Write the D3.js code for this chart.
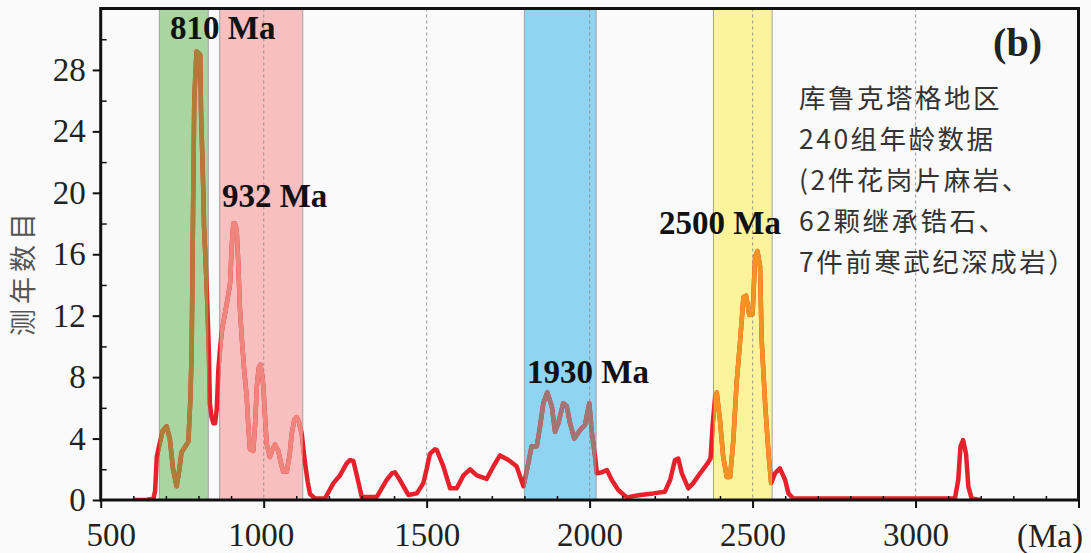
<!DOCTYPE html>
<html>
<head>
<meta charset="utf-8">
<script src="https://cdn.jsdelivr.net/npm/d3@7"></script>
<style>
  body { margin: 0; background: #fafafa; }
  svg { display: block; }
</style>
</head>
<body>
<div id="chart"></div>
<script>
// zircon age spectrum, Kuruktag

const ages = [600, 640, 662, 667, 672, 680, 690, 702, 712, 722, 733, 740, 748, 760, 769, 775, 779,
  784, 787, 790, 794, 800, 805, 808, 811, 815, 817, 822, 827, 832, 835, 840, 846, 851, 856, 861,
  866, 871, 880, 887, 897, 902, 907, 912, 917, 922, 927, 933, 940, 948, 953, 958, 968, 974, 979,
  985, 990, 995, 999, 1004, 1009, 1019, 1027, 1035, 1045, 1052, 1060, 1071, 1080, 1086, 1094,
  1101, 1108, 1117, 1122, 1127, 1135, 1142, 1157, 1188, 1214, 1234, 1255, 1265, 1275, 1288, 1301,
  1347, 1377, 1394, 1403, 1418, 1444, 1470, 1490, 1500, 1510, 1525, 1531, 1551, 1572, 1592, 1613,
  1633, 1654, 1684, 1705, 1725, 1751, 1776, 1797, 1812, 1822, 1838, 1848, 1858, 1870, 1884, 1894,
  1904, 1919, 1930, 1940, 1953, 1971, 1986, 1999, 2006, 2017, 2022, 2037, 2053, 2068, 2088, 2114,
  2155, 2195, 2231, 2247, 2262, 2272, 2283, 2303, 2318, 2339, 2359, 2371, 2378, 2385, 2390, 2400,
  2410, 2421, 2431, 2441, 2451, 2462, 2472, 2480, 2490, 2500, 2508, 2515, 2523, 2528, 2539, 2549,
  2557, 2569, 2584, 2600, 2610, 2625, 3121, 3131, 3138, 3146, 3155, 3162, 3172, 3200];

const counts = [0, 0, 0.1, 0.6, 2.8, 3.6, 4.5, 4.8, 4.0, 2.0, 0.9, 1.8, 3.1, 3.5, 3.8, 6.5, 9.6,
  20.1, 25.9, 27.5, 29.2, 29.1, 29.0, 25.1, 23.0, 20.0, 17.8, 15.5, 12.8, 9.6, 6.3, 5.4, 5.0, 5.0, 5.9, 8.5,
  9.8, 10.9, 12.0, 12.8, 14.1, 16.5, 18.0, 18.0, 17.6, 15.5, 12.5, 10.5, 8.5, 6.7, 4.8, 3.3, 3.2, 5.0, 7.4,
  8.6, 8.8, 8.2, 7.4, 5.5, 3.7, 2.8, 3.3, 3.6, 3.2, 2.5, 1.85, 1.85, 3.0, 4.3, 5.2,
  5.4, 5.1, 4.3, 3.3, 2.4, 1.2, 0.4, 0.1, 0.1, 1.1, 1.6, 2.4, 2.6, 2.55, 1.4, 0.2,
  0.2, 1.3, 1.75, 1.8, 1.3, 0.33, 0.43, 1.1, 2.0, 3.0, 3.3, 3.26, 2.2, 0.76, 0.76, 1.6,
  2.0, 1.6, 1.37, 2.2, 2.9, 2.6, 2.2, 0.9, 2.4, 3.5, 3.5, 4.8, 6.3, 7.0, 6.1, 4.45,
  5.0, 6.3, 6.1, 5.0, 4.0, 4.56, 4.9, 6.3, 4.56, 2.8, 1.74, 1.8, 1.95, 1.3, 0.65, 0.17,
  0.33, 0.43, 0.54, 1.3, 2.6, 2.7, 1.74, 0.76, 1.1, 1.74, 2.3, 2.7, 5.0, 6.7, 7.0, 5.2,
  2.8, 1.5, 1.5, 3.9, 7.6, 10.4, 13.2, 13.3, 12.05, 12.1, 15.85, 16.2, 15.2, 10.4, 6.1, 3.0,
  1.1, 1.74, 2.06, 1.3, 0.43, 0.1, 0.1, 1.3, 3.5, 3.9, 3.0, 0.87, 0.1, 0];

// highlighted age groups (Ma)
const bandFrom = [680, 865, 1800, 2380];
const bandTo = [830, 1120, 2020, 2560];

// peak labels
const peakLabels = ["810 Ma", "932 Ma", "1930 Ma", "2500 Ma"];
const peakLabelAge = [713, 872, 1808, 2213];
const peakLabelCount = [30.0, 19.1, 7.6, 17.3];

const xTicks = [500, 1000, 1500, 2000, 2500, 3000, 3500];
const xMinor = d3.range(600, 3500, 100).filter(d => d % 500 !== 0);
const xGrid = [1000, 1500, 2000, 2500, 3000];
const yTicks = [0, 4, 8, 12, 16, 20, 24, 28];
const yMinor = [2, 6, 10, 14, 18, 22, 26, 30];

const noteLines = ["库鲁克塔格地区", "240组年龄数据", "(2件花岗片麻岩、", "62颗继承锆石、", "7件前寒武纪深成岩）"];

const bandFills = ["#a8d5a0", "#f7bfbf", "#8fd4f1", "#fcf39b"];
const bandLines = ["#b07d38", "#f0857e", "#a37471", "#f49224"];
const lineColor = "#e6212b";

const width = 1091, height = 553;
const margin = {top: 8.5, right: 12.5, bottom: 53, left: 100.7};
const serif = "'Liberation Serif', 'Times New Roman', serif";
const cjk = "'Noto Sans CJK SC', sans-serif";

const svg = d3.select("#chart").append("svg")
  .attr("width", width)
  .attr("height", height);

const x = d3.scaleLinear().domain([500, 3500]).range([margin.left, width - margin.right]);
const y = d3.scaleLinear().domain([0, 32]).range([height - margin.bottom, margin.top]);

const data = ages.map((a, i) => ({age: a, n: counts[i]}));

const defs = svg.append("defs");
defs.append("clipPath").attr("id", "plot-clip")
  .append("rect")
  .attr("x", x(500)).attr("y", y(32))
  .attr("width", x(3500) - x(500)).attr("height", y(0) - y(32));

// bands
bandFrom.forEach((b, i) => {
  defs.append("clipPath").attr("id", "band-clip-" + i)
    .append("rect")
    .attr("x", x(b)).attr("y", y(32))
    .attr("width", x(bandTo[i]) - x(b)).attr("height", y(0) - y(32));
});

svg.append("g").selectAll("rect")
  .data(bandFrom)
  .join("rect")
  .attr("x", d => x(d))
  .attr("y", y(32))
  .attr("width", (d, i) => x(bandTo[i]) - x(d))
  .attr("height", y(0) - y(32))
  .attr("fill", (d, i) => bandFills[i])
  .attr("stroke", "#a0a0a0")
  .attr("stroke-width", 1);

// dashed grid
svg.append("g").selectAll("line")
  .data(xGrid)
  .join("line")
  .attr("x1", d => x(d)).attr("x2", d => x(d))
  .attr("y1", y(32)).attr("y2", y(0))
  .attr("stroke", "#8a8a8a")
  .attr("stroke-opacity", 0.75)
  .attr("stroke-width", 1.2)
  .attr("stroke-dasharray", "3,3");

// age curve
const line = d3.line()
  .x(d => x(d.age))
  .y(d => y(d.n));

svg.append("path")
  .datum(data)
  .attr("clip-path", "url(#plot-clip)")
  .attr("fill", "none")
  .attr("stroke", lineColor)
  .attr("stroke-width", 4.5)
  .attr("stroke-linejoin", "round")
  .attr("d", line);

bandFrom.forEach((b, i) => {
  svg.append("path")
    .datum(data)
    .attr("clip-path", `url(#band-clip-${i})`)
    .attr("fill", "none")
    .attr("stroke", bandLines[i])
    .attr("stroke-width", 4.5)
    .attr("stroke-linejoin", "round")
    .attr("d", line);
});

// axes
const xAxis = svg.append("g")
  .attr("transform", `translate(0,${y(0)})`)
  .call(d3.axisBottom(x).tickValues(xTicks).tickSize(8).tickPadding(15)
    .tickFormat(d => d === 3500 ? "" : d));
xAxis.select(".domain").remove();
xAxis.selectAll("line").attr("stroke", "#111").attr("stroke-width", 2);
xAxis.selectAll("text")
  .attr("font-family", serif).attr("font-size", 33).attr("fill", "#222")
  .attr("dx", d => d === 500 ? 10 : d === 1000 ? -3 : 0);

const xMinorAxis = svg.append("g")
  .attr("transform", `translate(0,${y(0)})`)
  .call(d3.axisBottom(x).tickValues(xMinor).tickSize(-4).tickFormat(""));
xMinorAxis.select(".domain").remove();
xMinorAxis.selectAll("line").attr("stroke", "#111").attr("stroke-width", 1.5);

const yAxis = svg.append("g")
  .attr("transform", `translate(${x(500)},0)`)
  .call(d3.axisLeft(y).tickValues(yTicks).tickSize(8).tickPadding(7));
yAxis.select(".domain").remove();
yAxis.selectAll("line").attr("stroke", "#111").attr("stroke-width", 2);
yAxis.selectAll("text")
  .attr("font-family", serif).attr("font-size", 33).attr("fill", "#222");

const yMinorAxis = svg.append("g")
  .attr("transform", `translate(${x(500)},0)`)
  .call(d3.axisLeft(y).tickValues(yMinor).tickSize(-6).tickFormat(""));
yMinorAxis.select(".domain").remove();
yMinorAxis.selectAll("line").attr("stroke", "#111").attr("stroke-width", 1.5);

// frame
svg.append("rect")
  .attr("x", x(500)).attr("y", y(32))
  .attr("width", x(3500) - x(500)).attr("height", y(0) - y(32))
  .attr("fill", "none")
  .attr("stroke", "#111")
  .attr("stroke-width", 3);

svg.append("text")
  .attr("x", 1083).attr("y", 547)
  .attr("text-anchor", "end")
  .attr("font-family", serif).attr("font-size", 33).attr("fill", "#222")
  .text("(Ma)");

svg.append("text")
  .attr("transform", "translate(33,272) rotate(-90)")
  .attr("text-anchor", "middle")
  .attr("font-family", cjk).attr("font-size", 27).attr("fill", "#555")
  .attr("letter-spacing", 5)
  .text("测年数目");

// peak labels
svg.append("g").selectAll("text")
  .data(peakLabels)
  .join("text")
  .attr("x", (d, i) => x(peakLabelAge[i]))
  .attr("y", (d, i) => y(peakLabelCount[i]))
  .attr("font-family", serif).attr("font-weight", "bold").attr("font-size", 33)
  .attr("fill", "#111")
  .text(d => d);

svg.append("text")
  .attr("x", 1042).attr("y", 56)
  .attr("text-anchor", "end")
  .attr("font-family", serif).attr("font-weight", "bold").attr("font-size", 40)
  .attr("fill", "#222")
  .text("(b)");

svg.append("g").selectAll("text")
  .data(noteLines)
  .join("text")
  .attr("x", 799)
  .attr("y", (d, i) => 108 + i * 41)
  .attr("font-family", cjk).attr("font-size", 26.5).attr("fill", "#333")
  .attr("letter-spacing", 2.5)
  .text(d => d);
</script>
</body>
</html>
